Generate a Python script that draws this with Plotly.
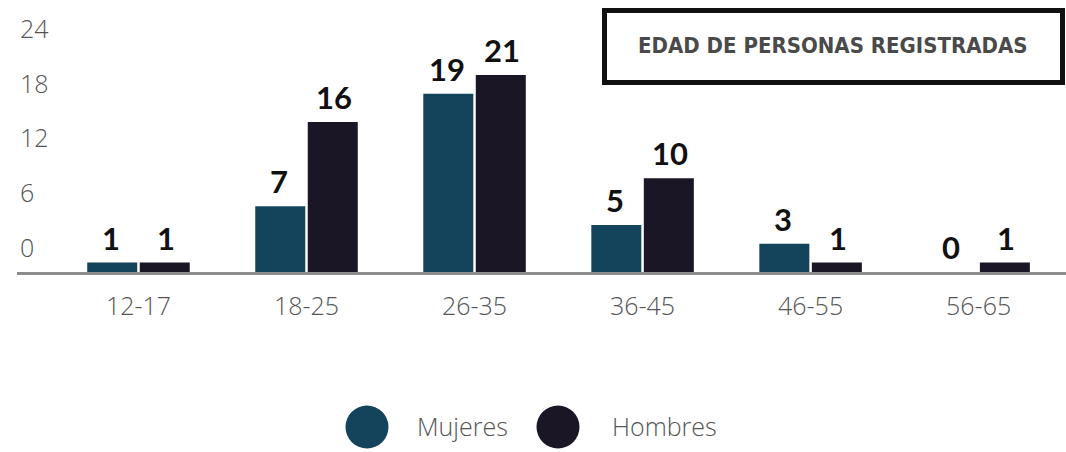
import plotly.graph_objects as go

categories = ["12-17", "18-25", "26-35", "36-45", "46-55", "56-65"]
mujeres = [1, 7, 19, 5, 3, 0]
hombres = [1, 16, 21, 10, 1, 1]
ytick_vals = [0, 6, 12, 18, 24]
series_names = ["Mujeres", "Hombres"]
colors = ["#13445b", "#1a1626"]
title_text = "EDAD DE PERSONAS REGISTRADAS"

W, H = 1066, 452
L, R, T, B = 17, 0, 0, 180
pw, ph = W - L - R, H - T - B


def px_x(px):
    return (px - L) / pw


def px_y(py):
    return (H - B - py) / ph


fig = go.Figure()
for name, vals, col in zip(series_names, [mujeres, hombres], colors):
    fig.add_trace(go.Bar(x=categories, y=vals, name=name, marker_color=col,
                         marker_line_width=0, showlegend=False, hoverinfo="skip"))

# data labels
annotations = []
for vals, shift in [(mujeres, -27.5), (hombres, 27.5)]:
    for c, v in zip(categories, vals):
        annotations.append(dict(x=c, y=v, xref="x", yref="y", text=str(v),
                                showarrow=False, xshift=shift, yshift=4,
                                yanchor="bottom",
                                font=dict(family="Lato", size=31, color="#111111", weight="bold")))

# title box
annotations.append(dict(x=px_x(833), y=px_y(46), xref="paper", yref="paper",
                        text=title_text, showarrow=False, xanchor="center", yanchor="middle",
                        font=dict(family="DejaVu Sans Condensed, Liberation Sans Narrow, sans-serif",
                                  size=22, color="#4a4a4a", weight="bold")))

# legend
legend_items = [(367, 415), (558, 610)]
shapes = [dict(type="rect", xref="paper", yref="paper",
               x0=px_x(604.5), x1=px_x(1062.5), y0=px_y(10.5), y1=px_y(82.5),
               line=dict(color="#111111", width=5), fillcolor="rgba(0,0,0,0)")]
for (cx, tx), name, col in zip(legend_items, series_names, colors):
    shapes.append(dict(type="circle", xref="paper", yref="paper",
                       x0=px_x(cx - 21.5), x1=px_x(cx + 21.5),
                       y0=px_y(427 + 21.5), y1=px_y(427 - 21.5),
                       line=dict(width=0), fillcolor=col))
    annotations.append(dict(x=px_x(tx), y=px_y(426), xref="paper", yref="paper",
                            text=name, showarrow=False, xanchor="left", yanchor="middle",
                            font=dict(family="Open Sans", size=25, color="#555555", weight=300)))

fig.update_layout(
    width=W, height=H,
    margin=dict(l=L, r=R, t=T, b=B),
    paper_bgcolor="white", plot_bgcolor="white",
    barmode="group", bargap=0.375, bargroupgap=0.0476,
    annotations=annotations, shapes=shapes,
    xaxis=dict(range=[-0.723, 5.52], showline=True, linecolor="#8c8c8c", linewidth=3,
               ticks="", showgrid=False, zeroline=False, ticklabelstandoff=10,
               tickfont=dict(family="Open Sans", size=25, color="#555555", weight=300)),
    yaxis=dict(range=[0, 29.0], showgrid=False, zeroline=False, showticklabels=False,
               showline=False, ticks=""),
    yaxis2=dict(range=[-2.63, 27.18], overlaying="y", side="left", anchor="x",
                tickvals=ytick_vals, ticktext=[str(v) for v in ytick_vals],
                ticklabelposition="inside", showgrid=False, zeroline=False,
                showline=False, ticks="",
                tickfont=dict(family="Open Sans", size=25, color="#555555", weight=300)),
)
# invisible trace to activate yaxis2
fig.add_trace(go.Scatter(x=[categories[0]], y=[0], yaxis="y2", mode="markers",
                         marker=dict(opacity=0), showlegend=False, hoverinfo="skip"))

fig.write_html("out.html", config={"displayModeBar": False},
               post_script="document.body.style.margin='0';")
